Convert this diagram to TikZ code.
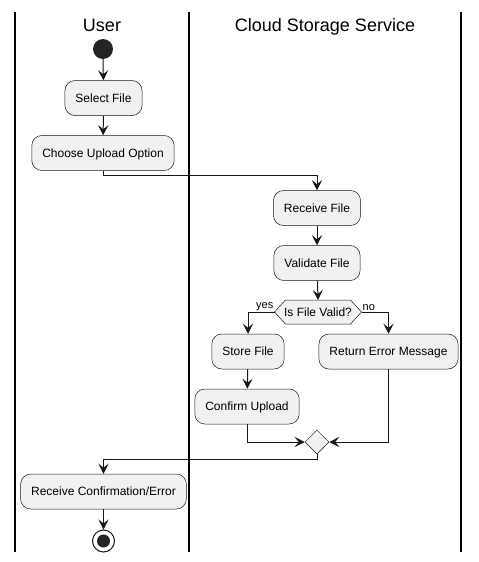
\documentclass[tikz,border=0pt]{standalone}
\usepackage{fontspec}
\setmainfont{Liberation Sans}
\usetikzlibrary{arrows.meta,shapes.geometric}
\definecolor{boxfill}{HTML}{F1F1F1}
\definecolor{ink}{HTML}{181818}
\tikzset{
  act/.style={draw=ink,line width=0.5pt,fill=boxfill,rounded corners=10pt,
    minimum height=35pt,inner xsep=10.5pt,inner ysep=0pt,
    font=\fontsize{12}{14}\selectfont,text height=8.6pt,text depth=0pt},
  arr/.style={draw=ink,line width=1pt,-{Stealth[length=10pt,width=10pt,inset=4pt]}},
  lane/.style={draw=black,line width=1.5pt},
  hdr/.style={font=\fontsize{18}{20}\selectfont,anchor=base},
  lbl/.style={font=\fontsize{11}{12}\selectfont,inner sep=1pt},
}
\begin{document}
\begin{tikzpicture}[x=1pt,y=-1pt]
\useasboundingbox[fill=white] (0,0) rectangle (479,562);
% swimlanes
\draw[lane] (15,12) -- (15,552);
\draw[lane] (189,12) -- (189,552);
\draw[lane] (461,12) -- (461,552);
\node[hdr] (hUser) at (102,31.5) {User};
\node[hdr] (hCloud) at (325,31.5) {Cloud Storage Service};
% nodes
\node[circle,fill=ink!95!white,minimum size=20pt,inner sep=0pt] (start) at (103,49) {};
\node[act] (select) at (103.5,98) {Select File};
\node[act] (choose) at (103,153) {Choose Upload Option};
\node[act] (recv) at (317,208) {Receive File};
\node[act] (valid) at (317,263) {Validate File};
\coordinate (q) at (318,312);
\coordinate (qt) at (318,300);
\coordinate (ql) at (274.5,312);
\coordinate (qr) at (361.5,312);
\draw[draw=ink,line width=0.5pt,fill=boxfill] ([xshift=-32.5pt]qt) -- ([xshift=32.5pt]qt) -- (qr) -- ([xshift=32.5pt,yshift=-24pt]qt) -- ([xshift=-32.5pt,yshift=-24pt]qt) -- (ql) -- cycle;
\node[inner sep=0pt,font=\fontsize{12}{14}\selectfont,text height=8.6pt,text depth=0pt] (qtext) at (q) {Is File Valid?};
\node[act] (store) at (248,351.5) {Store File};
\node[act] (err) at (388.5,351.5) {Return Error Message};
\node[act] (confirm) at (247,406.5) {Confirm Upload};
\node[diamond,draw=ink,line width=0.5pt,fill=boxfill,minimum width=24pt,minimum height=24pt,inner sep=0pt] (merge) at (317,442) {};
\node[act] (rce) at (103.5,491.5) {Receive Confirmation/Error};
\node[circle,draw=ink,line width=1pt,fill=white,minimum size=22pt,inner sep=0pt] (stop) at (103.5,541) {};
\node[circle,fill=ink!95!white,minimum size=13pt,inner sep=0pt] (stopin) at (stop) {};
% labels
\node[lbl,anchor=south east] (yes) at (ql) {yes};
\node[lbl,anchor=south west] (no) at (qr) {no};
% connectors
\coordinate (j1) at (317,175);
\coordinate (j2) at (317,459);
\draw[arr] (start) -- (select);
\draw[arr] (select) -- (choose);
\draw[arr] (choose.south) |- (j1) -- (recv.north);
\draw[arr] (recv) -- (valid);
\draw[arr] (valid) -- (qt);
\draw[arr] (ql) -| (store.north);
\draw[arr] (qr) -| (err.north);
\draw[arr] (store) -- (confirm);
\draw[arr] (confirm.south) |- (merge.west);
\draw[arr] (err.south) |- (merge.east);
\draw[arr] (merge.south) -- (j2) -| (rce.north);
\draw[arr] (rce) -- (stop);
\end{tikzpicture}
\end{document}
